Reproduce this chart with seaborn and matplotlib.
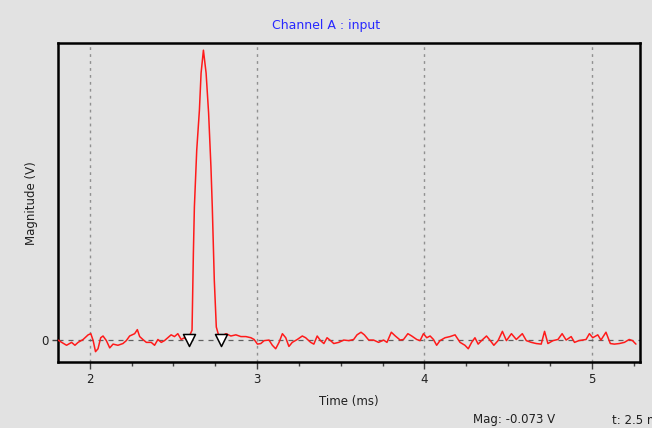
import numpy as np
import pandas as pd
import matplotlib
matplotlib.use("Agg")
import matplotlib.pyplot as plt
import seaborn as sns

# ---- data ----
time_ms = [
    1.810, 1.832, 1.861, 1.891, 1.911, 1.930, 1.960, 1.990, 2.006, 2.020,
    2.034, 2.049, 2.065, 2.079, 2.099, 2.119, 2.139, 2.168, 2.198, 2.218,
    2.238, 2.268, 2.284, 2.298, 2.317, 2.338, 2.367, 2.387, 2.407, 2.427,
    2.446, 2.466, 2.486, 2.506, 2.526, 2.546, 2.565, 2.583,
    2.611, 2.619, 2.625, 2.639, 2.655, 2.665, 2.679, 2.695, 2.710, 2.724,
    2.732, 2.744, 2.756,
    2.774, 2.814, 2.843, 2.873, 2.903, 2.933, 2.963, 2.982, 3.002, 3.022,
    3.042, 3.071, 3.091, 3.111, 3.131, 3.151, 3.171, 3.190, 3.210, 3.240,
    3.270, 3.290, 3.320, 3.339, 3.359, 3.379, 3.399, 3.418, 3.439, 3.458,
    3.488, 3.518, 3.548, 3.577, 3.597, 3.621, 3.641, 3.667,
    3.696, 3.726, 3.756, 3.776, 3.802, 3.826, 3.855, 3.875, 3.901, 3.924,
    3.954, 3.974, 3.994, 4.014, 4.034, 4.054, 4.073, 4.093, 4.123, 4.153,
    4.183, 4.213, 4.242, 4.262, 4.282, 4.302, 4.321,
    4.341, 4.371, 4.391, 4.415, 4.440, 4.466, 4.490, 4.520, 4.549, 4.585,
    4.609, 4.639, 4.668, 4.698, 4.718, 4.738, 4.768, 4.798, 4.823, 4.847,
    4.877, 4.897, 4.923,
    4.946, 4.966, 4.986, 5.006, 5.036, 5.055, 5.085, 5.111, 5.135, 5.165,
    5.195, 5.224, 5.244, 5.264,
]
magnitude_v = [
    0.000, -0.008, -0.018, -0.008, -0.018, -0.008, 0.002, 0.018, 0.022, -0.002,
    -0.040, -0.030, 0.008, 0.014, -0.002, -0.027, -0.014, -0.018, -0.012, -0.002,
    0.014, 0.022, 0.036, 0.012, 0.002, -0.008, -0.008, -0.018, 0.002, -0.008,
    -0.002, 0.008, 0.018, 0.012, 0.022, 0.002, 0.008, -0.002,
    0.034, 0.300, 0.459, 0.655, 0.793, 0.921, 1.000, 0.921, 0.783, 0.597,
    0.459, 0.207, 0.045,
    0.008, 0.022, 0.014, 0.018, 0.012, 0.012, 0.008, 0.002, -0.014, -0.012,
    -0.002, 0.000, -0.018, -0.030, -0.008, 0.022, 0.008, -0.022, -0.008, 0.002,
    0.014, 0.008, -0.008, -0.014, 0.014, -0.002, -0.012, 0.008, -0.002, -0.012,
    -0.008, 0.000, -0.002, 0.002, 0.018, 0.027, 0.018, 0.000,
    0.000, -0.008, 0.000, -0.008, 0.027, 0.014, 0.000, 0.002, 0.022, 0.014,
    0.002, -0.002, 0.022, 0.008, 0.014, 0.002, -0.018, -0.002, 0.008, 0.012,
    0.018, -0.008, -0.018, -0.030, -0.008, 0.008, -0.014,
    -0.002, 0.014, 0.000, -0.018, -0.002, 0.030, -0.002, 0.022, 0.002, 0.022,
    -0.002, -0.008, -0.012, -0.014, 0.030, -0.012, -0.002, 0.002, 0.022, 0.000,
    0.012, -0.008, -0.002,
    0.000, 0.002, 0.022, 0.008, 0.018, 0.000, 0.027, -0.012, -0.014, -0.012,
    -0.008, 0.002, -0.002, -0.014,
]
cursor_t = [2.590, 2.786]
cursor_v = [0.0, 0.0]

x_ticks = [2, 3, 4, 5]
x_tick_labels = ["2", "3", "4", "5"]
x_minor_ticks = [2.25, 2.5, 2.75, 3.25, 3.5, 3.75, 4.25, 4.5, 4.75, 5.25]
y_ticks = [0]
y_tick_labels = ["0"]

title_text = "Channel A : input"
x_label = "Time (ms)"
y_label = "Magnitude (V)"
status_mag = "Mag: -0.073 V"
status_t = "t: 2.5 ms"

# ---- drawing ----
sns.set_theme(style="white")
plt.rcParams["font.family"] = ["DejaVu Sans"]
bg = "#e2e2e2"

fig = plt.figure(figsize=(6.52, 4.28), dpi=100, facecolor=bg)
ax = fig.add_axes([0.089, 0.154, 0.893, 0.745])
ax.set_facecolor(bg)

df = pd.DataFrame({"t": time_ms, "v": magnitude_v})
sns.lineplot(data=df, x="t", y="v", ax=ax, color="#ff1a1a", linewidth=1.1,
             sort=False, estimator=None, zorder=3)

ax.set_xlim(1.81, 5.29)
ax.set_ylim(-0.076, 1.024)

# grid
for xt in x_ticks:
    ax.axvline(xt, color="#909090", linestyle=(0, (2, 3)), linewidth=1.0, zorder=1)
ax.axhline(0, color="#606060", linestyle=(0, (4, 4)), linewidth=0.9, zorder=1)

cur = pd.DataFrame({"t": cursor_t, "v": cursor_v})
sns.scatterplot(data=cur, x="t", y="v", ax=ax, marker="v", s=75,
                facecolor="white", edgecolor="black", linewidth=1.1, zorder=4)

ax.set_xticks(x_ticks)
ax.set_xticklabels(x_tick_labels, fontsize=8.5, color="#202020")
ax.set_xticks(x_minor_ticks, minor=True)
ax.set_yticks(y_ticks)
ax.set_yticklabels(y_tick_labels, fontsize=8.5, color="#202020")
ax.tick_params(axis="x", which="major", direction="out", length=5, width=1,
               color="#404040", bottom=True, pad=3)
ax.tick_params(axis="x", which="minor", direction="out", length=3, width=1,
               color="#404040", bottom=True)
ax.tick_params(axis="y", which="major", direction="out", length=4, width=1,
               color="#404040", left=True, pad=3)

for sp in ax.spines.values():
    sp.set_visible(True)
    sp.set_color("black")
    sp.set_linewidth(1.8)

ax.set_xlabel(x_label, fontsize=8.5, color="#202020", labelpad=6)
ax.set_ylabel(y_label, fontsize=8.5, color="#202020", labelpad=2)
fig.text(0.5, 1 - 25 / 428, title_text, fontsize=9, color="#2828ff",
         ha="center", va="center")

fig.text(473 / 652, 1 - 420 / 428, status_mag, fontsize=8.5, color="#202020",
         ha="left", va="center")
fig.text(612 / 652, 1 - 420 / 428, status_t, fontsize=8.5, color="#202020",
         ha="left", va="center")

fig.savefig("out.png", dpi=100, facecolor=bg)
